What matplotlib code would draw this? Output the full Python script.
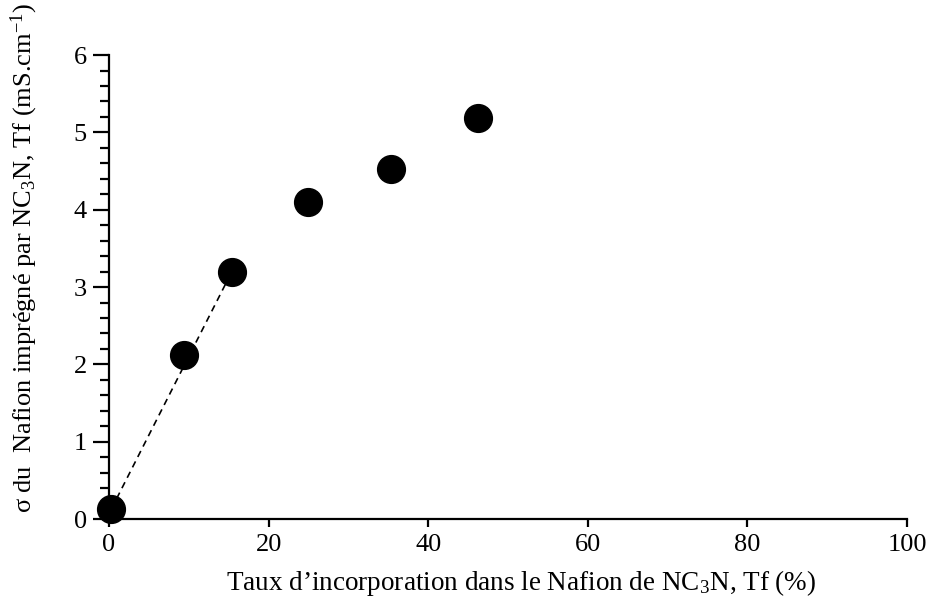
import numpy as np
import matplotlib
matplotlib.use("Agg")
import matplotlib.pyplot as plt
from matplotlib.ticker import MultipleLocator

plt.rcParams['font.family'] = ['Liberation Serif', 'DejaVu Serif']
plt.rcParams['mathtext.fontset'] = 'custom'
plt.rcParams['mathtext.rm'] = 'Liberation Serif'
plt.rcParams['mathtext.it'] = 'Liberation Serif:italic'

# taux d'incorporation (%) et conductivite (mS/cm)
taux = [0.3, 9.4, 15.4, 24.9, 35.4, 46.2]
sigma = [0.13, 2.12, 3.2, 4.1, 4.52, 5.19]
# segment en pointilles entre le 1er et le 3e point
fit_x = taux[:3:2]
fit_y = sigma[:3:2]

fig = plt.figure(figsize=(9.29, 6.01), dpi=100)
ax = fig.add_axes([0.1173, 0.1364, 0.859, 0.772])

ax.plot(fit_x, fit_y, linestyle=(0, (4, 3)), color='black', linewidth=1.2, zorder=2)
ax.plot(taux, sigma, 'o', color='black', markersize=20, zorder=3, clip_on=False)

ax.set_xlim(0, 100)
ax.set_ylim(0, 6)
ax.xaxis.set_major_locator(MultipleLocator(20))
ax.yaxis.set_major_locator(MultipleLocator(1))
ax.yaxis.set_minor_locator(MultipleLocator(0.2))

for s in ['top', 'right']:
    ax.spines[s].set_visible(False)
for s in ['left', 'bottom']:
    ax.spines[s].set_linewidth(1.6)

ax.tick_params(axis='y', which='major', direction='out', length=11.5, width=1.6, labelsize=19, pad=4.5)
ax.tick_params(axis='y', which='minor', direction='out', length=6.5, width=1.6)
ax.tick_params(axis='x', which='major', direction='out', length=5.5, width=1.6, labelsize=19, pad=5)

ax.set_xlabel("Taux d\u2019incorporation dans le Nafion de NC$_3$N, Tf (%)", fontsize=19.5)
ax.set_ylabel("\u03c3 du  Nafion impr\u00e9gn\u00e9 par NC$_3$N, Tf (mS.cm$^{-1}$)", fontsize=19)
ax.xaxis.set_label_coords(0.516, -0.105)
ax.yaxis.set_label_coords(-0.086, 0.5625)

fig.savefig("out.png", dpi=100)
